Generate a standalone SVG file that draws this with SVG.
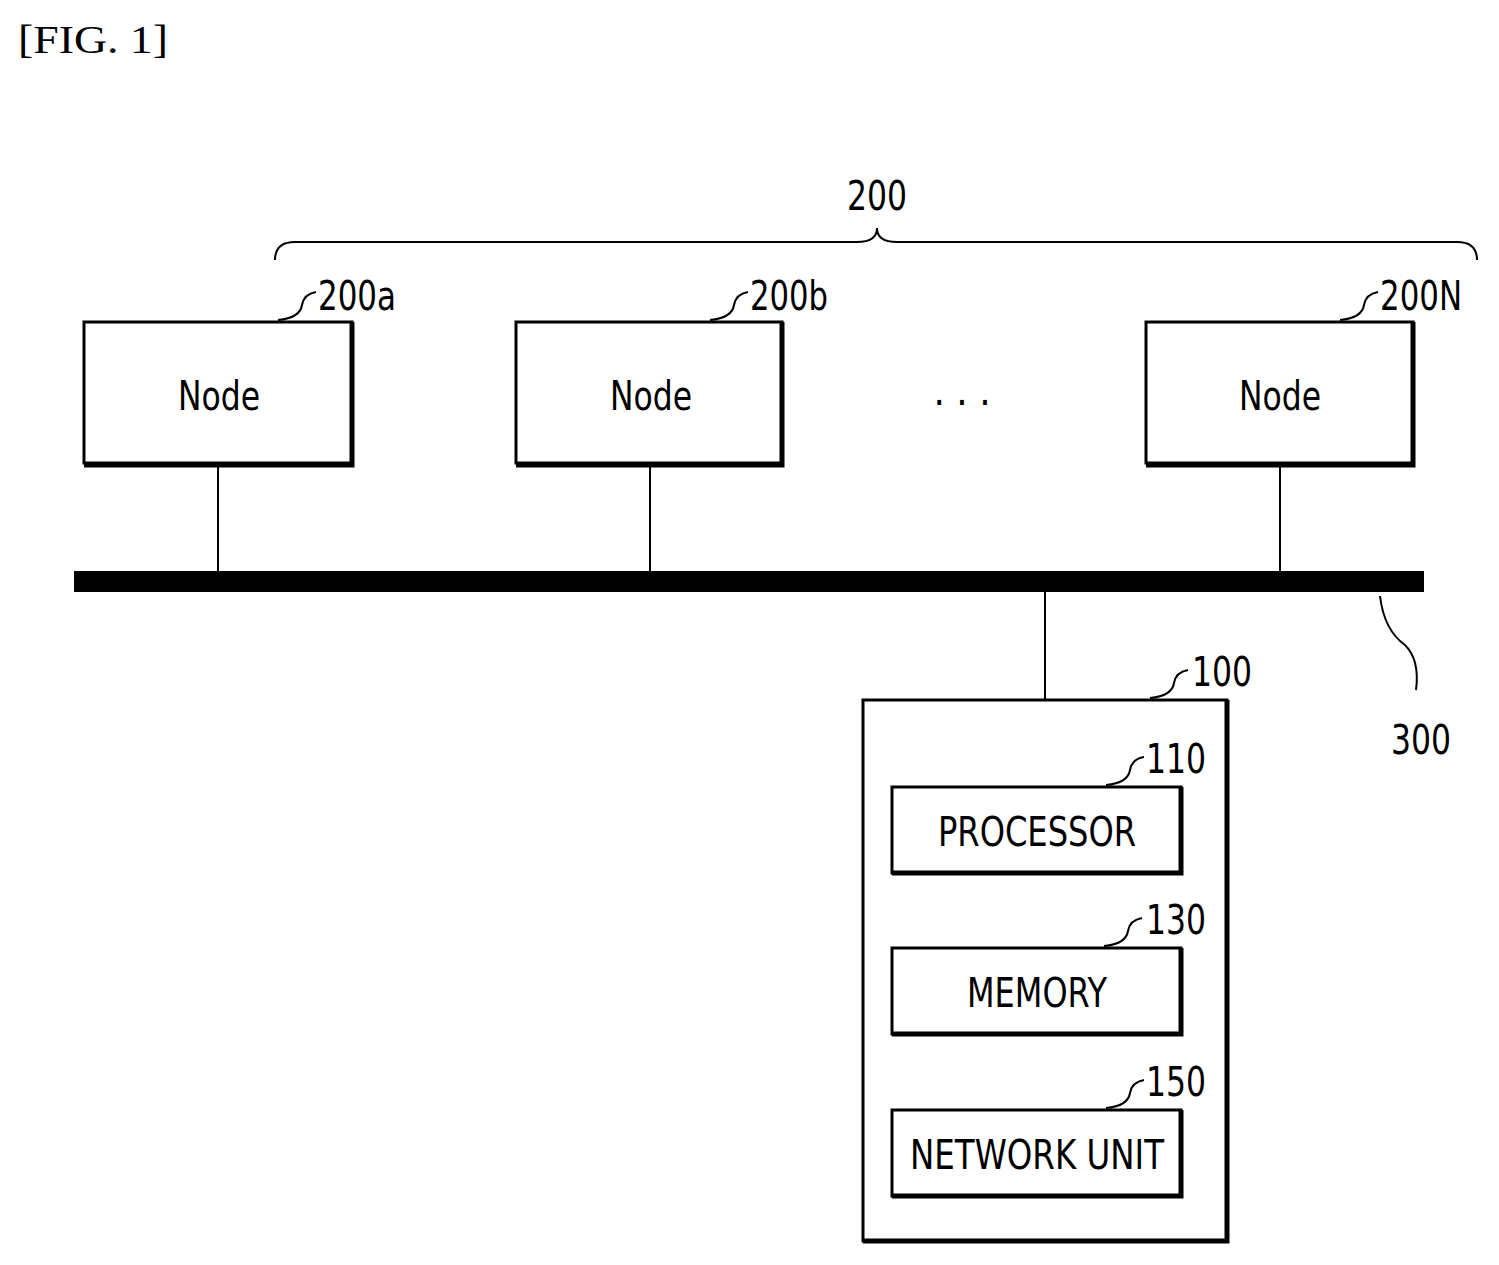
<svg xmlns="http://www.w3.org/2000/svg" width="1499" height="1265" viewBox="0 0 1499 1265">
<style>
.b{fill:#fff;stroke:#000;stroke-width:3}
.s{fill:none;stroke:#000;stroke-width:5}
.l{fill:none;stroke:#000;stroke-width:2}
.t{font-family:"DejaVu Sans Condensed","DejaVu Sans",sans-serif;font-size:40px;text-anchor:middle}
.r{font-family:"DejaVu Sans Condensed","DejaVu Sans",sans-serif;font-size:40px}
</style>
<rect width="1499" height="1265" fill="#fff"/>
<text x="18" y="53" font-family="Liberation Serif,serif" font-size="40" textLength="150" lengthAdjust="spacingAndGlyphs">[FIG. 1]</text>
<g id="connectors">
<rect x="74" y="571" width="1350" height="21" fill="#000"/>
<path class="l" d="M218 465V571M650 465V571M1280 465V571M1045 592V700"/>
<path class="l" d="M275 260Q275 242 295 242H857Q877 242 877 228Q877 242 897 242H1457Q1477 242 1477 260"/>
<path class="l" d="M278 320Q300 318 302 305Q304 294 316 292"/>
<path class="l" d="M710 320Q732 318 734 305Q736 294 748 292"/>
<path class="l" d="M1340 320Q1362 318 1364 305Q1366 294 1378 292"/>
<path class="l" d="M1150 698Q1172 696 1174 683Q1176 672 1188 670"/>
<path class="l" d="M1380 596Q1384 630 1405 645Q1420 660 1416 690"/>
</g>
<g id="label200"><text class="t" x="877" y="210" textLength="60" lengthAdjust="spacingAndGlyphs">200</text></g>
<g id="label300"><text class="t" x="1421" y="754" textLength="60" lengthAdjust="spacingAndGlyphs">300</text></g>
<g id="n200a"><rect class="b" x="84" y="322" width="268" height="141"/><path class="s" d="M352 322V465H84"/><text class="t" x="219" y="410" textLength="82" lengthAdjust="spacingAndGlyphs">Node</text><text class="r" x="318" y="310" textLength="78" lengthAdjust="spacingAndGlyphs">200a</text></g>
<g id="n200b"><rect class="b" x="516" y="322" width="266" height="141"/><path class="s" d="M782 322V465H516"/><text class="t" x="651" y="410" textLength="82" lengthAdjust="spacingAndGlyphs">Node</text><text class="r" x="750" y="310" textLength="78" lengthAdjust="spacingAndGlyphs">200b</text></g>
<g id="dots"><text class="t" x="962" y="405">. . .</text></g>
<g id="n200N"><rect class="b" x="1146" y="322" width="267" height="141"/><path class="s" d="M1413 322V465H1146"/><text class="t" x="1280" y="410" textLength="82" lengthAdjust="spacingAndGlyphs">Node</text><text class="r" x="1380" y="310" textLength="82" lengthAdjust="spacingAndGlyphs">200N</text></g>
<g id="n100"><rect class="b" x="863" y="700" width="364" height="541"/><path class="s" d="M1227 700V1241H863"/><text class="r" x="1192" y="686" textLength="60" lengthAdjust="spacingAndGlyphs">100</text></g>
<g id="n110"><path class="l" d="M1106 785Q1128 783 1130 770Q1132 759 1144 757"/><rect class="b" x="892" y="787" width="289" height="86"/><path class="s" d="M1181 787V873H892"/><text class="t" x="1037" y="846" textLength="198" lengthAdjust="spacingAndGlyphs">PROCESSOR</text><text class="r" x="1146" y="773" textLength="60" lengthAdjust="spacingAndGlyphs">110</text></g>
<g id="n130"><path class="l" d="M1104 946Q1126 944 1128 931Q1130 920 1142 918"/><rect class="b" x="892" y="948" width="289" height="86"/><path class="s" d="M1181 948V1034H892"/><text class="t" x="1037" y="1007" textLength="140" lengthAdjust="spacingAndGlyphs">MEMORY</text><text class="r" x="1146" y="934" textLength="60" lengthAdjust="spacingAndGlyphs">130</text></g>
<g id="n150"><path class="l" d="M1106 1108Q1128 1106 1130 1093Q1132 1082 1144 1080"/><rect class="b" x="892" y="1110" width="289" height="86"/><path class="s" d="M1181 1110V1196H892"/><text class="t" x="1037" y="1169" textLength="254" lengthAdjust="spacingAndGlyphs">NETWORK UNIT</text><text class="r" x="1146" y="1096" textLength="60" lengthAdjust="spacingAndGlyphs">150</text></g>
</svg>
